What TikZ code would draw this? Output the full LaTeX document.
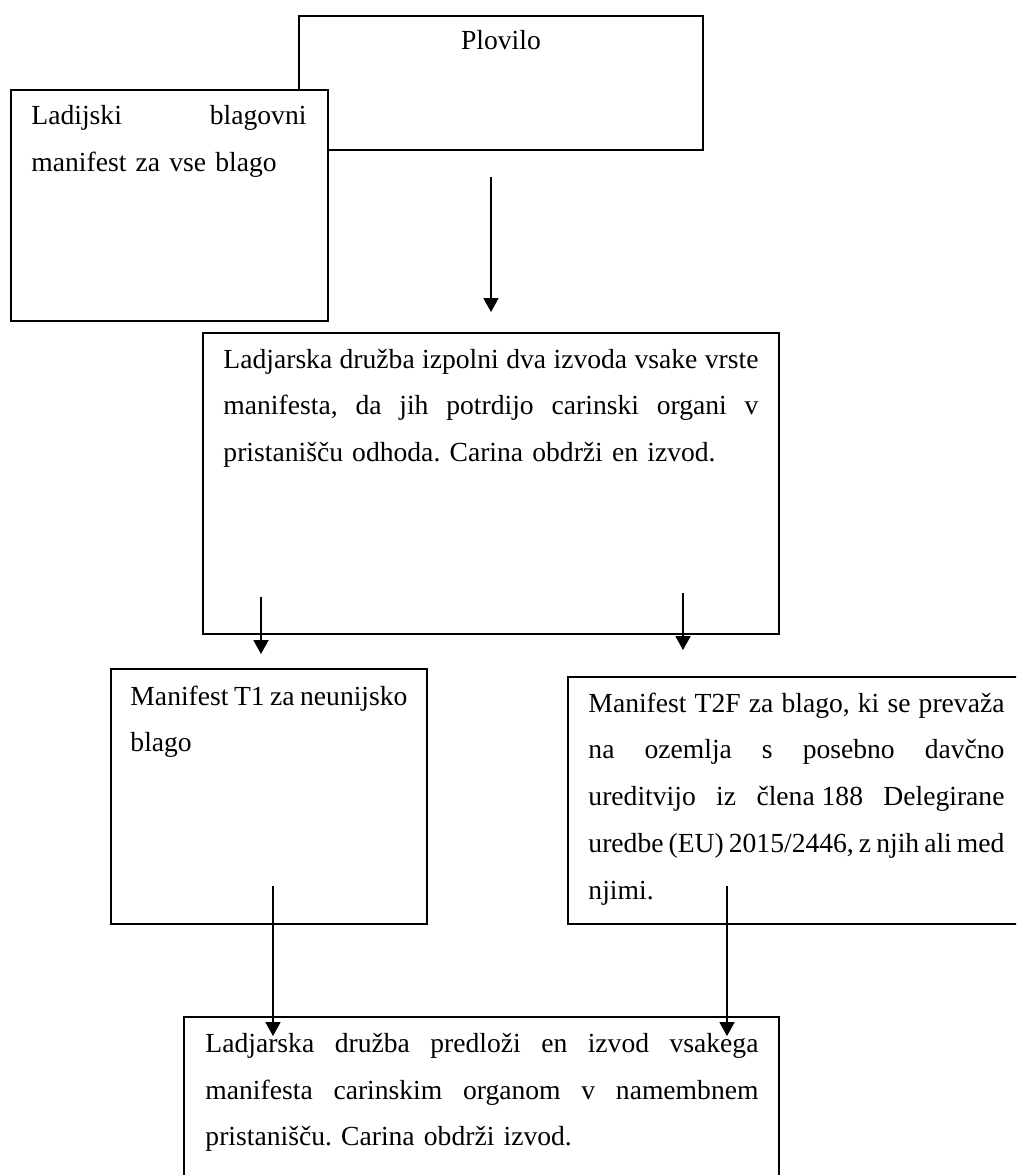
\documentclass[tikz,border=0pt]{standalone}
\usepackage{fontspec}
\setmainfont{Liberation Serif}
\usetikzlibrary{arrows.meta,fit}
\newdimen\pxu
\pxu=0.43478pt
\tikzset{
  box/.style={draw, line width=0.6pt, fill=white, inner sep=0pt},
  txt/.style={anchor=base west, inner sep=0pt, align=left,
    font=\fontsize{12}{20.43}\selectfont\frenchspacing},
  arr/.style={line width=0.6pt, -{Triangle[length=6pt,width=6.5pt]}},
}
\newcommand\jline[2]{\makebox[#1\pxu][s]{\spaceskip=.25em plus 1em minus .16em #2}}

\begin{document}
\begin{tikzpicture}[x=0.43478pt, y=-0.43478pt]
    \clip (0,0) rectangle (1016,1175);
    \fill[white] (0,0) rectangle (1016,1175);
    \foreach \nm/\xa/\ya/\xb/\yb in {vessel/299/16/703/150, cargo/11/90/328/321,
        issue/203/333/779/634, mtone/111/669/427/924, mtwo/568/677/1030/924,
        present/184/1017/779/1190} {
      \coordinate (\nm nw) at (\xa,\ya);
      \coordinate (\nm se) at (\xb,\yb);
      \node[box, fit=(\nm nw)(\nm se)] (\nm) {};
    }
    \node[txt, anchor=base] (vessel txt) at (501,50) {Plovilo};
    \node[txt, text width=275*\pxu] (cargo txt) at (31,125)
      {\jline{275}{Ladijski blagovni}\\manifest za vse blago};
    \node[txt, text width=535*\pxu] (issue txt) at (223,368)
      {\jline{535}{Ladjarska družba izpolni dva izvoda vsake vrste}\\
       \jline{535}{manifesta, da jih potrdijo carinski organi v}\\
       pristanišču odhoda. Carina obdrži en izvod.};
    \node[txt, text width=277*\pxu] (mtone txt) at (130,705)
      {\jline{277}{Manifest T1 za neunijsko}\\blago};
    \node[txt, text width=416*\pxu] (mtwo txt) at (588,712)
      {\jline{416}{Manifest T2F za blago, ki se prevaža}\\
       \jline{416}{na ozemlja s posebno davčno}\\
       \jline{416}{ureditvijo iz člena\kern.25em 188 Delegirane}\\
       \jline{416}{uredbe (EU) 2015/2446, z njih ali med}\\
       njimi.};
    \node[txt, text width=553*\pxu] (present txt) at (205,1052)
      {\jline{553}{Ladjarska družba predloži en izvod vsakega}\\
       \jline{553}{manifesta carinskim organom v namembnem}\\
       pristanišču. Carina obdrži izvod.};
    \foreach \nm/\x/\ya/\yb in {a1/491/177/312, a2/261/597/654, a3/683/593/650,
        a4/273/886/1036, a5/727/886/1036} {
      \coordinate (\nm s) at (\x,\ya);
      \coordinate (\nm e) at (\x,\yb);
      \draw[arr] (\nm s) -- (\nm e);
    }
\end{tikzpicture}
\end{document}
